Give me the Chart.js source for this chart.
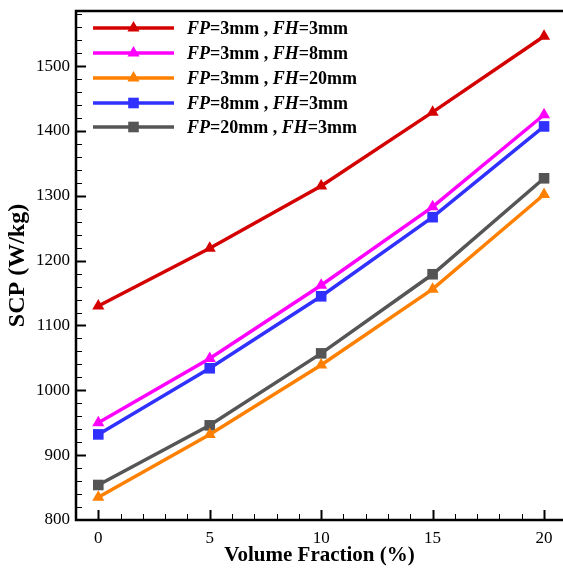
<!DOCTYPE html>
<html><head><meta charset="utf-8">
<script src="https://cdn.jsdelivr.net/npm/chart.js@4/dist/chart.umd.min.js"></script>
<style>html,body{margin:0;padding:0;background:#fff;overflow:hidden}#wrap{width:563px;height:568px;position:relative}</style>
</head><body><div id="wrap"><canvas id="c" width="563" height="568"></canvas></div>
<script>
const volumeFraction = [0, 5, 10, 15, 20];
const fp3fh3 = [1130, 1219, 1315, 1429, 1546];
const fp3fh8 = [950, 1049, 1162, 1283, 1425];
const fp3fh20 = [835, 932, 1039, 1156, 1302];
const fp8fh3 = [932, 1034, 1145, 1267, 1407];
const fp20fh3 = [854, 946, 1057, 1179, 1327];
const xTickValues = [0, 5, 10, 15, 20];
const yTickValues = [800, 900, 1000, 1100, 1200, 1300, 1400, 1500];
const seriesLabels = [
  ['FP', '=3mm , ', 'FH', '=3mm'],
  ['FP', '=3mm , ', 'FH', '=8mm'],
  ['FP', '=3mm , ', 'FH', '=20mm'],
  ['FP', '=8mm , ', 'FH', '=3mm'],
  ['FP', '=20mm , ', 'FH', '=3mm']
];

const SERIF = '"Liberation Serif", "Times New Roman", serif';

function mk(label, data, color, style) {
  return {
    label: label.join(''), data: volumeFraction.map((x, i) => ({x, y: data[i]})),
    borderColor: color, backgroundColor: color, borderWidth: 3.5,
    pointStyle: style, pointRadius: style === 'triangle' ? 7 : 7.5,
    pointBorderWidth: 0, pointHoverRadius: 7, tension: 0
  };
}

const framePlugin = {
  id: 'frame',
  afterDatasetsDraw(chart) {
    const {ctx, chartArea: a, scales: {x, y}} = chart;
    ctx.save();
    ctx.strokeStyle = '#000';
    ctx.lineWidth = 1;
    for (let v = -1; v <= 21; v++) {
      const px = Math.round(x.getPixelForValue(v)) + 0.5;
      if (px < a.left + 1 || px > a.right) continue;
      const major = xTickValues.includes(v);
      ctx.lineWidth = major ? 2 : 1;
      ctx.beginPath(); ctx.moveTo(px, a.bottom); ctx.lineTo(px, a.bottom - (major ? 10 : 6)); ctx.stroke();
    }
    for (let v = 800; v <= 1580; v += 20) {
      const py = Math.round(y.getPixelForValue(v)) + 0.5;
      if (py > a.bottom - 1 || py < a.top + 1) continue;
      const major = yTickValues.includes(v);
      ctx.lineWidth = major ? 2 : 1;
      ctx.beginPath(); ctx.moveTo(a.left, py); ctx.lineTo(a.left + (major ? 10 : 6), py); ctx.stroke();
    }
    ctx.lineWidth = 2.5;
    ctx.beginPath();
    ctx.moveTo(a.right + 2, a.top); ctx.lineTo(a.left, a.top); ctx.lineTo(a.left, a.bottom); ctx.lineTo(a.right + 2, a.bottom);
    ctx.stroke();
    const x0 = 93, x1 = 174, tx = 187, ys = [28, 53, 78, 103, 127];
    chart.data.datasets.forEach((ds, i) => {
      const yy = ys[i];
      ctx.strokeStyle = ds.borderColor; ctx.lineWidth = 3.5;
      ctx.beginPath(); ctx.moveTo(x0, yy); ctx.lineTo(x1, yy); ctx.stroke();
      ctx.fillStyle = ds.backgroundColor;
      Chart.helpers.drawPoint(ctx, {pointStyle: ds.pointStyle, radius: ds.pointRadius, rotation: 0, borderWidth: 0}, (x0 + x1) / 2, yy);
      ctx.fillStyle = '#000'; ctx.textBaseline = 'middle'; ctx.textAlign = 'left';
      let cx = tx;
      seriesLabels[i].forEach((part, k) => {
        ctx.font = (k % 2 === 0 ? 'italic bold ' : 'bold ') + '18px ' + SERIF;
        ctx.fillText(part, cx, yy + 1);
        cx += ctx.measureText(part).width;
      });
    });
    ctx.restore();
  }
};

new Chart(document.getElementById('c'), {
  type: 'line',
  data: {datasets: [
    mk(seriesLabels[0], fp3fh3, '#d40000', 'triangle'),
    mk(seriesLabels[1], fp3fh8, '#ff00ff', 'triangle'),
    mk(seriesLabels[2], fp3fh20, '#ff8000', 'triangle'),
    mk(seriesLabels[3], fp8fh3, '#3030ff', 'rect'),
    mk(seriesLabels[4], fp20fh3, '#555555', 'rect')
  ]},
  options: {
    responsive: false, animation: false, devicePixelRatio: 1,
    layout: {autoPadding: false, padding: {top: 11, right: 0, left: 0, bottom: 0}},
    plugins: {legend: {display: false}, tooltip: {enabled: false}},
    scales: {
      x: {
        type: 'linear', min: -1, max: 20.85,
        grid: {display: false, drawTicks: false}, border: {display: false},
        afterBuildTicks: s => { s.ticks = xTickValues.map(v => ({value: v})); },
        afterFit: s => { s.height = 48; s.paddingLeft = 0; s.paddingRight = 0; },
        ticks: {padding: 8, color: '#000', font: {family: SERIF, size: 17}, maxRotation: 0, callback: v => String(v)},
        title: {display: true, text: 'Volume Fraction (%)', color: '#000', font: {family: SERIF, size: 21, weight: 'bold'}, padding: {top: 0, bottom: 0}}
      },
      y: {
        type: 'linear', min: 800, max: 1585,
        grid: {display: false, drawTicks: false}, border: {display: false},
        afterBuildTicks: s => { s.ticks = yTickValues.map(v => ({value: v})); },
        afterFit: s => { s.width = 76; s.paddingTop = 0; s.paddingBottom = 0; },
        ticks: {padding: 6, color: '#000', font: {family: SERIF, size: 17}, callback: v => String(v)},
        title: {display: true, text: 'SCP (W/kg)', color: '#000', font: {family: SERIF, size: 24, weight: 'bold'}, padding: {top: 3, bottom: 0}}
      }
    }
  },
  plugins: [framePlugin]
});
</script></body></html>
